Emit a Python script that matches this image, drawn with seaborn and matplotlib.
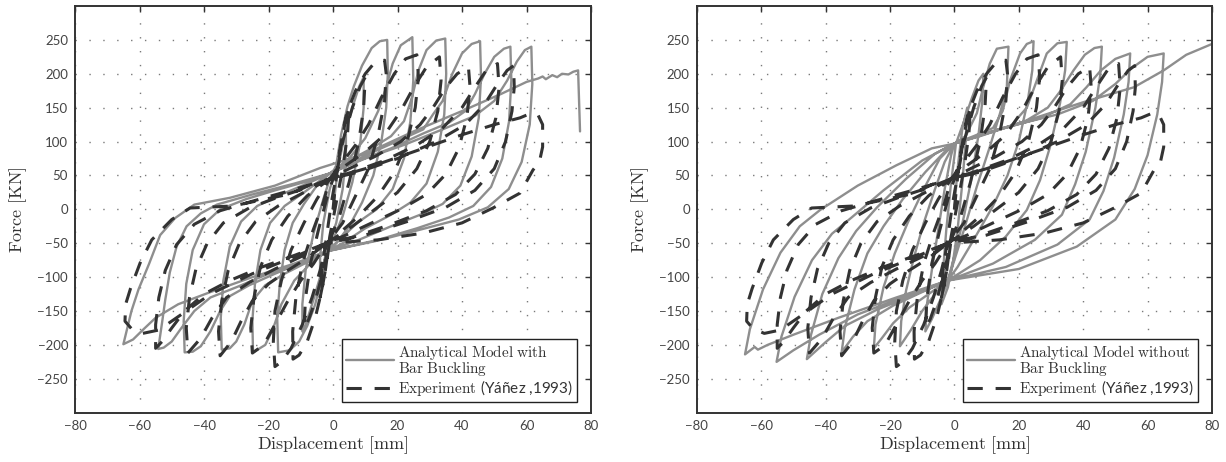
import numpy as np
import pandas as pd
import matplotlib
matplotlib.use("Agg")
import matplotlib.pyplot as plt
from matplotlib.lines import Line2D
import seaborn as sns

# ---------------- data (displacement [mm], force [kN]) ----------------
model_with_buckling = [
    (0, 0), (1.5, 60), (3, 95), (4, 110),
    (4, 80), (3, 30), (1, -20), (-1.5, -55),
    (-3, -85), (-4, -100),
    (-4, -70), (-3, -20), (-1, 30), (1, 60),
    (3, 100), (6, 150), (8, 180), (9.5, 195),
    (9.5, 150), (8.5, 100), (6, 40), (3, -10), (0, -45), (-2, -62),
    (-4, -100), (-6.5, -140), (-8.5, -170), (-9.5, -180),
    (-9.5, -140), (-8.5, -90), (-6, -35), (-3, 15), (-1, 45), (1, 65),
    (2.5, 110), (4.5, 152), (6.5, 182), (9, 212), (12, 238), (14.5, 248), (16.8, 250),
    (17, 200), (16.5, 150), (15, 100), (12.5, 50), (9, 10), (5, -25), (1, -50), (-2, -62),
    (-3.5, -100), (-5.5, -140), (-8, -172), (-10.5, -195), (-13.5, -208), (-17, -211),
    (-17.3, -160), (-16.5, -110), (-15, -60), (-12.5, -20), (-9, 8), (-5, 35), (-1, 53),
    (5, 75), (10, 105), (14, 145), (16.5, 180), (18.5, 215), (21, 242), (24.6, 254),
    (24.9, 190), (24, 130), (22, 75), (18.5, 30), (13.5, 0), (7.5, -20), (2, -45), (-2, -62),
    (-7, -80), (-12, -105), (-16, -140), (-18.5, -175), (-21, -200), (-24.8, -211),
    (-25, -165), (-24.2, -110), (-22.5, -60), (-19.5, -20), (-15, 5), (-9, 25), (-1, 53),
    (5, 72), (12, 90), (18, 108), (22, 130), (24.5, 165), (26.5, 205), (29, 235), (32, 249), (34.8, 252),
    (35.1, 200), (34.5, 140), (32.5, 85), (29, 38), (24, 10), (18, -8), (10, -28), (3, -50), (-2, -62),
    (-8, -78), (-15, -95), (-21, -112), (-25, -135), (-27.5, -170), (-30, -195), (-32, -205), (-34.5, -207),
    (-34.8, -160), (-34, -105), (-32, -55), (-28.5, -18), (-23.5, 5), (-16, 22), (-8, 38), (-1, 53),
    (6, 70), (14, 88), (22, 105), (28, 118), (31, 140), (34, 160), (37, 200), (40, 230), (43, 244), (45.6, 248),
    (45.9, 195), (45.2, 135), (43, 78), (39.5, 35), (34, 8), (27, -8), (18, -25), (8, -45), (-2, -62),
    (-9, -77), (-18, -95), (-26, -112), (-32, -128), (-35, -150), (-38, -180), (-41, -202), (-43.5, -210), (-46, -211),
    (-46.3, -165), (-45.5, -110), (-43.5, -60), (-40, -22), (-35, 0), (-27, 15), (-18, 28), (-9, 40), (-1, 53),
    (8, 72), (18, 90), (28, 112), (36, 128), (41, 145), (44, 170), (47, 200), (50, 225), (53, 237), (55, 240),
    (55.3, 190), (54.6, 130), (52.5, 75), (49, 33), (43.5, 5), (36, -12), (26, -28), (14, -45), (-2, -62),
    (-10, -78), (-20, -95), (-30, -115), (-38, -130), (-43, -150), (-47, -175), (-50, -195), (-52.5, -204), (-54.2, -206),
    (-53, -167), (-52, -133), (-50.6, -93), (-48.5, -55), (-45.4, -25), (-41, -6), (-36, 7), (-25, 22), (-12, 38), (-1, 53),
    (10, 75), (22, 95), (34, 118), (44, 138), (50, 160), (54, 190), (57, 218), (59.5, 235), (61.5, 240),
    (61.8, 185), (61, 125), (58.5, 70), (54.5, 30), (48, 3), (39, -15), (27, -30), (13, -47), (-2, -62),
    (-12, -80), (-25, -100), (-38, -122), (-48, -140), (-55, -160), (-59, -178), (-62, -192), (-65, -199),
    (-62.5, -150), (-60.3, -118), (-57, -80), (-53.6, -38), (-49, -13), (-43, 7), (-32, 17), (-18, 35), (-4, 61),
    (10, 82), (25, 115), (40, 145), (52, 170), (60, 188), (63.6, 193), (65, 196), (66, 192), (68, 198),
    (69.5, 195), (71, 200), (73, 199), (74.5, 203), (76, 205), (76.6, 115),
]

model_without_buckling = [
    (0, 0), (1, 60), (2.5, 120), (4, 150),
    (3.5, 100), (2.5, 40), (1, -30), (-0.5, -80),
    (-2, -115), (-4, -140),
    (-3.5, -90), (-2.5, -30), (-1, 40), (0.5, 97),
    (3, 130), (5.5, 165), (7.5, 190), (9, 200),
    (8.7, 160), (7.5, 110), (5.5, 50), (3, -10), (0.5, -60), (-2, -105),
    (-4.5, -135), (-7, -162), (-9, -180),
    (-8.5, -140), (-7, -90), (-5, -30), (-3, 30), (-1, 80), (0, 97),
    (3.5, 108), (7, 142), (9, 181), (11, 215), (13.2, 237), (16.8, 240),
    (16.3, 181), (14.2, 142), (11, 92), (7, 34), (3, -30), (0, -75), (-2, -105),
    (-6, -125), (-10, -150), (-13.5, -178), (-16.9, -202),
    (-16.5, -165), (-15, -120), (-12.5, -70), (-9.5, -20), (-6, 30), (-3, 70), (0, 97),
    (6, 108), (12, 120), (15, 145), (17.3, 190), (20.4, 230), (22.5, 244), (24.6, 248),
    (24.2, 205), (22.8, 160), (20, 100), (16.5, 50), (12, 5), (6, -45), (1, -85), (-2, -105),
    (-8, -125), (-14, -145), (-19, -168), (-22.5, -190), (-25, -205),
    (-24.5, -170), (-22, -115), (-18.5, -65), (-14.5, -20), (-9.5, 30), (-4.5, 75), (0, 97),
    (8, 108), (17.5, 123), (22.5, 150), (25.6, 190), (28.7, 230), (32, 245), (34.9, 247),
    (34.4, 205), (32.8, 156), (29.7, 92), (26.6, 43), (22.5, -1), (16, -40), (8, -75), (-2, -105),
    (-10, -122), (-19, -142), (-27, -165), (-31.5, -188), (-35, -211),
    (-34, -175), (-31, -118), (-27, -65), (-22, -25), (-16, 15), (-9, 55), (-3, 85), (0, 97),
    (10, 112), (22, 130), (29, 150), (33, 175), (37, 205), (40.5, 228), (43.5, 238), (45.8, 240),
    (45.3, 198), (43.8, 150), (40.8, 85), (37.5, 37), (33.4, -8), (25, -45), (12, -80), (-2, -105),
    (-12, -125), (-24, -148), (-34, -172), (-40, -196), (-45.8, -221),
    (-44.5, -185), (-41, -125), (-36, -72), (-30.5, -32), (-24, 3), (-15, 45), (-6, 82), (0, 97),
    (12, 115), (27, 135), (36, 155), (41, 180), (45.5, 205), (50, 222), (54.6, 230),
    (54.1, 188), (52.6, 140), (49.6, 76), (46.3, 27), (42, -15), (32, -52), (16, -85), (-2, -105),
    (-15, -128), (-30, -155), (-42, -185), (-50, -208), (-55.2, -225),
    (-53.7, -188), (-49.6, -129), (-44.2, -75), (-38, -36), (-31.9, -12), (-22, 28), (-10, 72), (0, 97),
    (15, 120), (32, 140), (43, 160), (50, 185), (55, 208), (60, 225), (65, 230),
    (64.5, 188), (63, 140), (60, 80), (56, 30), (50, -15), (38, -55), (20, -88), (-2, -105),
    (-18, -130), (-36, -160), (-50, -185), (-58, -200), (-61, -207), (-62, -203), (-65, -214),
    (-63.5, -177), (-59.4, -118), (-54, -64), (-48, -25), (-41.7, -1), (-30, 35), (-18, 65), (-7, 90), (0, 97),
    (20, 127), (40, 158), (55.7, 180), (65, 205), (72, 228), (80, 244),
]

experiment = [
    (0, 0), (1.5, 70), (3.5, 125), (5, 150),
    (4.5, 110), (3, 60), (1, 10), (-1, -40),
    (-2.5, -95), (-4, -130),
    (-3.5, -90), (-2, -40), (-0.5, 10), (1, 50),
    (3, 100), (6, 150), (8.5, 182), (10, 195),
    (9.5, 150), (8, 100), (5, 40), (2, -10), (-1, -45),
    (-3, -90), (-5.5, -135), (-7.5, -162), (-9, -175),
    (-8.5, -130), (-7, -80), (-4.5, -30), (-2, 15), (0, 45),
    (2, 80), (4.2, 141), (7, 175), (10, 200), (13, 217), (16, 220),
    (16.5, 200), (16, 160), (14, 110), (11, 60), (7, 20), (3, -20), (-1, -45),
    (-2, -80), (-3.5, -120), (-5.5, -160), (-8, -195), (-10.5, -215), (-12.4, -221),
    (-12.5, -180), (-11.5, -130), (-9.5, -80), (-6.5, -35), (-3, 10), (-1, 45),
    (3, 70), (7, 95), (11, 125), (15, 165), (19, 200), (22.5, 222), (26, 228),
    (26.5, 195), (25.5, 150), (23, 100), (19, 55), (14, 20), (8, -10), (2, -35), (-2, -50),
    (-4, -90), (-6.5, -130), (-9.5, -170), (-13, -205), (-16, -225), (-18, -232),
    (-18.5, -195), (-18, -150), (-16, -105), (-13, -60), (-9, -20), (-5, 15), (-1, 45),
    (4, 65), (10, 85), (16, 110), (21, 145), (25, 180), (29, 210), (33, 225),
    (33.5, 190), (32.5, 145), (30, 100), (26, 60), (20, 25), (13, 0), (6, -25), (-2, -50),
    (-6, -80), (-10, -105), (-14, -135), (-18, -170), (-21.5, -200), (-25, -212),
    (-25.5, -175), (-24.5, -130), (-22.5, -85), (-19, -45), (-14, -10), (-8, 20), (-1, 45),
    (5, 60), (13, 78), (21, 100), (27, 125), (31, 150), (35, 180), (38.5, 200), (42, 210),
    (42.5, 180), (41.5, 135), (39, 90), (35, 52), (29, 22), (21, 0), (12, -20), (4, -38), (-2, -50),
    (-8, -72), (-14, -90), (-20, -110), (-25, -135), (-28.5, -165), (-31.5, -195), (-35, -216),
    (-35.5, -180), (-34.5, -135), (-32.5, -90), (-29, -50), (-24, -18), (-17, 5), (-9, 25), (-1, 45),
    (6, 55), (16, 72), (26, 95), (34, 120), (40, 150), (44, 180), (47.5, 205), (51, 215),
    (51.5, 180), (50.5, 135), (48, 90), (44, 52), (38, 22), (29, -2), (18, -22), (7, -40), (-2, -50),
    (-10, -70), (-18, -88), (-26, -108), (-33, -130), (-37.5, -160), (-41, -190), (-45, -212),
    (-45.5, -175), (-44.5, -130), (-42.5, -88), (-39, -50), (-34, -20), (-26, 2), (-17, 18), (-8, 32), (-1, 45),
    (8, 55), (20, 75), (32, 100), (41, 125), (47, 155), (51, 185), (54, 205), (56, 212),
    (56.2, 180), (55.5, 145), (53.5, 100), (50, 60), (44, 28), (35, 3), (23, -18), (10, -38), (-2, -50),
    (-12, -68), (-22, -85), (-32, -105), (-40, -125), (-46, -150), (-50, -175), (-53, -195), (-55, -205),
    (-55, -170), (-54, -130), (-52, -90), (-48.5, -52), (-43, -22), (-35, -2), (-25, 12), (-13, 28), (-1, 45),
    (10, 60), (25, 85), (40, 110), (50, 125), (58, 135), (61, 141), (63.5, 140), (65, 125), (65, 92),
    (64, 70), (62, 58), (58, 24), (49.6, 2), (40, -20), (28, -35), (14, -45), (-2, -50),
    (-12, -70), (-25, -95), (-38, -125), (-47, -155), (-54, -178), (-59, -183), (-62.5, -176), (-64.5, -165),
    (-64.3, -140), (-62.8, -117), (-59.8, -79), (-56.2, -45), (-50, -15), (-44.3, 2), (-31, 5), (-13, 23), (-4, 43),
]

x_ticks = [-80, -60, -40, -20, 0, 20, 40, 60, 80]
y_ticks = [-250, -200, -150, -100, -50, 0, 50, 100, 150, 200, 250]
legend_models = [r"$\mathrm{Analytical\ Model\ with}$" + "\n" + r"$\mathrm{Bar\ Buckling}$",
                 r"$\mathrm{Analytical\ Model\ without}$" + "\n" + r"$\mathrm{Bar\ Buckling}$"]
legend_experiment = r"$\mathrm{Experiment\ }$(Yáñez ,1993)"

# ---------------- style ----------------
sns.set_theme(style="white")
plt.rcParams['font.family'] = ['Lato', 'DejaVu Sans']
plt.rcParams['mathtext.fontset'] = 'cm'

GRAY = '#8e8e8e'
DARK = '#333333'
DASH = (5.0, 4.2)

W, H = 1226, 462
fig = plt.figure(figsize=(W / 100, H / 100), dpi=100)
boxes = [(75, 591), (696.7, 1212)]
top_px, bot_px = 6, 412.7

exp_df = pd.DataFrame(experiment, columns=['disp', 'force'])
models = [pd.DataFrame(model_with_buckling, columns=['disp', 'force']),
          pd.DataFrame(model_without_buckling, columns=['disp', 'force'])]

for i, (l, r) in enumerate(boxes):
    ax = fig.add_axes([l / W, 1 - bot_px / H, (r - l) / W, (bot_px - top_px) / H])
    sns.lineplot(data=models[i], x='disp', y='force', sort=False, estimator=None,
                 color=GRAY, lw=1.7, ax=ax, legend=False)
    sns.lineplot(data=exp_df, x='disp', y='force', sort=False, estimator=None,
                 color=DARK, lw=2.2, ax=ax, legend=False)
    ax.lines[1].set_dashes(DASH)
    ax.lines[0].set_solid_joinstyle('round')

    ax.set_xlim(-80, 80)
    ax.set_ylim(-300, 300)
    ax.set_xticks(x_ticks)
    ax.set_yticks(y_ticks)
    ax.grid(True, linestyle=(0, (1, 9)), color='#7a7a7a', lw=1.0)
    ax.tick_params(direction='in', top=True, right=True, length=4, width=1,
                   color=DARK, labelcolor='#444444', labelsize=9.5, pad=5)
    for s in ax.spines.values():
        s.set_color(DARK)
        s.set_linewidth(1.4)
    ax.set_xlabel(r"$\mathrm{Displacement\ [mm]}$", fontsize=13, color=DARK, labelpad=2)
    ax.set_ylabel(r"$\mathrm{Force\ [KN]}$", fontsize=13, color=DARK, labelpad=6)

    handles = [Line2D([], [], color=GRAY, lw=1.7),
               Line2D([], [], color=DARK, lw=2.2, dashes=DASH)]
    leg = ax.legend(handles, [legend_models[i], legend_experiment], loc='lower right',
                    bbox_to_anchor=(0.973, 0.026), borderaxespad=0, fontsize=11,
                    frameon=True, fancybox=False, framealpha=1, edgecolor='#222222',
                    handlelength=3.1, borderpad=0.25, labelspacing=0.05, handletextpad=0.3)
    leg.get_frame().set_linewidth(1.0)
    for t in leg.get_texts():
        t.set_color(DARK)
        t.set_linespacing(0.8)

fig.savefig('out.png', dpi=100)
